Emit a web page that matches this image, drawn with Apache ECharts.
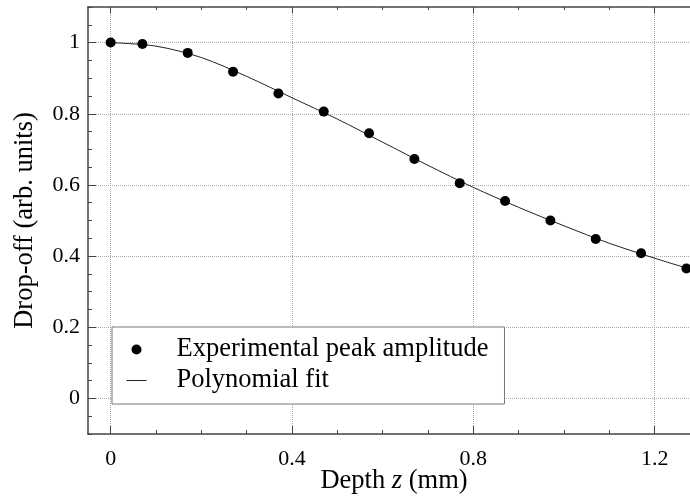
<!DOCTYPE html>
<html>
<head>
    <meta charset="UTF-8">
    <title>Drop-off vs depth</title>
    <script src="https://cdn.jsdelivr.net/npm/echarts@6/dist/echarts.min.js"></script>
    <style>
        html, body { margin: 0; padding: 0; background: #fff; }
        #chart { width: 690px; height: 499px; }
    </style>
</head>
<body>
    <div id="chart"></div>
    <script type="text/javascript">
        // measured points
        var depthPts = [0, 0.07, 0.17, 0.27, 0.37, 0.47, 0.57, 0.67, 0.77, 0.87, 0.97, 1.07, 1.17, 1.27];
        var amplitude = [1.0, 0.996, 0.971, 0.918, 0.857, 0.806, 0.745, 0.673, 0.605, 0.555, 0.5, 0.448, 0.408, 0.365];

        // polynomial fit
        var fitDepth = [0, 0.1, 0.2, 0.3, 0.4, 0.5, 0.6, 0.7, 0.8, 0.9, 1.0, 1.1, 1.2, 1.3];
        var fitValue = [1.0, 0.99, 0.958, 0.905, 0.845, 0.785, 0.72, 0.655, 0.593, 0.537, 0.485, 0.436, 0.394, 0.355];

        // ticks
        var xMajor = [0, 0.4, 0.8, 1.2];
        var xMinor = [0, 0.1, 0.2, 0.3, 0.4, 0.5, 0.6, 0.7, 0.8, 0.9, 1.0, 1.1, 1.2, 1.3];
        var yMajor = [0, 0.2, 0.4, 0.6, 0.8, 1];
        var yMinor = [-0.1, -0.05, 0, 0.05, 0.1, 0.15, 0.2, 0.25, 0.3, 0.35, 0.4, 0.45, 0.5,
                      0.55, 0.6, 0.65, 0.7, 0.75, 0.8, 0.85, 0.9, 0.95, 1, 1.05, 1.1];

        var FONT = '"Liberation Serif", "DejaVu Serif", serif';
        var axisColor = '#444';

        function zip(a, b) {
            return a.map(function (v, i) { return [v, b[i]]; });
        }

        // one axis = one set of tick marks (major or minor)
        function tickAxis(pos, values, len, showLine, extra) {
            var ax = {
                type: 'value',
                position: pos,
                axisLine: { show: showLine, onZero: false, lineStyle: { color: axisColor, width: 1.5 } },
                axisTick: { show: true, inside: true, length: len, customValues: values,
                            lineStyle: { color: axisColor, width: 1 } },
                axisLabel: { show: false },
                splitLine: { show: false }
            };
            return Object.assign(ax, extra);
        }

        var chart = echarts.init(document.getElementById('chart'), null, { renderer: 'canvas' });

        var xRange = { min: -0.05, max: 1.3 };
        var yRange = { min: -0.1, max: 1.1 };

        var option = {
            animation: false,
            backgroundColor: '#fff',
            grid: { left: 88, top: 7, right: -10, bottom: 65, containLabel: false, outerBoundsMode: 'none' },
            xAxis: [
                tickAxis('bottom', xMajor, 8, true, Object.assign({
                    name: '{n|Depth }{i|z}{n| (mm)}',
                    nameLocation: 'middle',
                    nameGap: 34,
                    nameMoveOverlap: false,
                    nameTextStyle: {
                        rich: {
                            n: { fontFamily: FONT, fontSize: 26.5, color: '#000' },
                            i: { fontFamily: FONT, fontSize: 26.5, color: '#000', fontStyle: 'italic' }
                        }
                    },
                    axisLabel: { show: true, customValues: xMajor, margin: 14,
                                 fontFamily: FONT, fontSize: 22, color: '#000' },
                    splitLine: { show: true, lineStyle: { color: '#aaa', type: 'dotted', width: 1 } }
                }, xRange)),
                tickAxis('bottom', xMinor, 4, false, Object.assign({}, xRange)),
                tickAxis('top', xMajor, 6, true, Object.assign({}, xRange)),
                tickAxis('top', xMinor, 3, false, Object.assign({}, xRange))
            ],
            yAxis: [
                tickAxis('left', yMajor, 8, true, Object.assign({
                    name: 'Drop-off (arb. units)',
                    nameLocation: 'middle',
                    nameGap: 49,
                    nameMoveOverlap: false,
                    nameTextStyle: { fontFamily: FONT, fontSize: 26.5, color: '#000' },
                    axisLabel: { show: true, customValues: yMajor, margin: 8,
                                 fontFamily: FONT, fontSize: 22, color: '#000' },
                    splitLine: { show: true, lineStyle: { color: '#aaa', type: 'dotted', width: 1 } }
                }, yRange)),
                tickAxis('left', yMinor, 4, false, Object.assign({}, yRange))
            ],
            legend: {
                left: 112,
                top: 327,
                orient: 'vertical',
                padding: [9, 16, 10, 14],
                itemGap: 4,
                itemWidth: 20,
                itemHeight: 10,
                backgroundColor: '#fff',
                borderColor: '#777',
                borderWidth: 1,
                textStyle: { fontFamily: FONT, fontSize: 26.5, lineHeight: 26, color: '#000',
                             padding: [0, 0, 0, 25] },
                data: [
                    { name: 'Experimental peak amplitude', icon: 'circle',
                      itemStyle: { color: '#000', opacity: 1 } },
                    { name: 'Polynomial fit', icon: 'line',
                      itemStyle: { borderWidth: 1, borderColor: '#222' } }
                ]
            },
            series: [
                {
                    name: 'Polynomial fit',
                    type: 'line',
                    data: zip(fitDepth, fitValue),
                    smooth: 0.3,
                    symbol: 'none',
                    lineStyle: { color: '#222', width: 1 },
                    itemStyle: { color: '#222' },
                    z: 2
                },
                {
                    name: 'Experimental peak amplitude',
                    type: 'scatter',
                    data: zip(depthPts, amplitude),
                    symbol: 'circle',
                    symbolSize: 10,
                    itemStyle: { color: '#000', opacity: 1 },
                    z: 3
                }
            ]
        };

        chart.setOption(option);
    </script>
</body>
</html>
